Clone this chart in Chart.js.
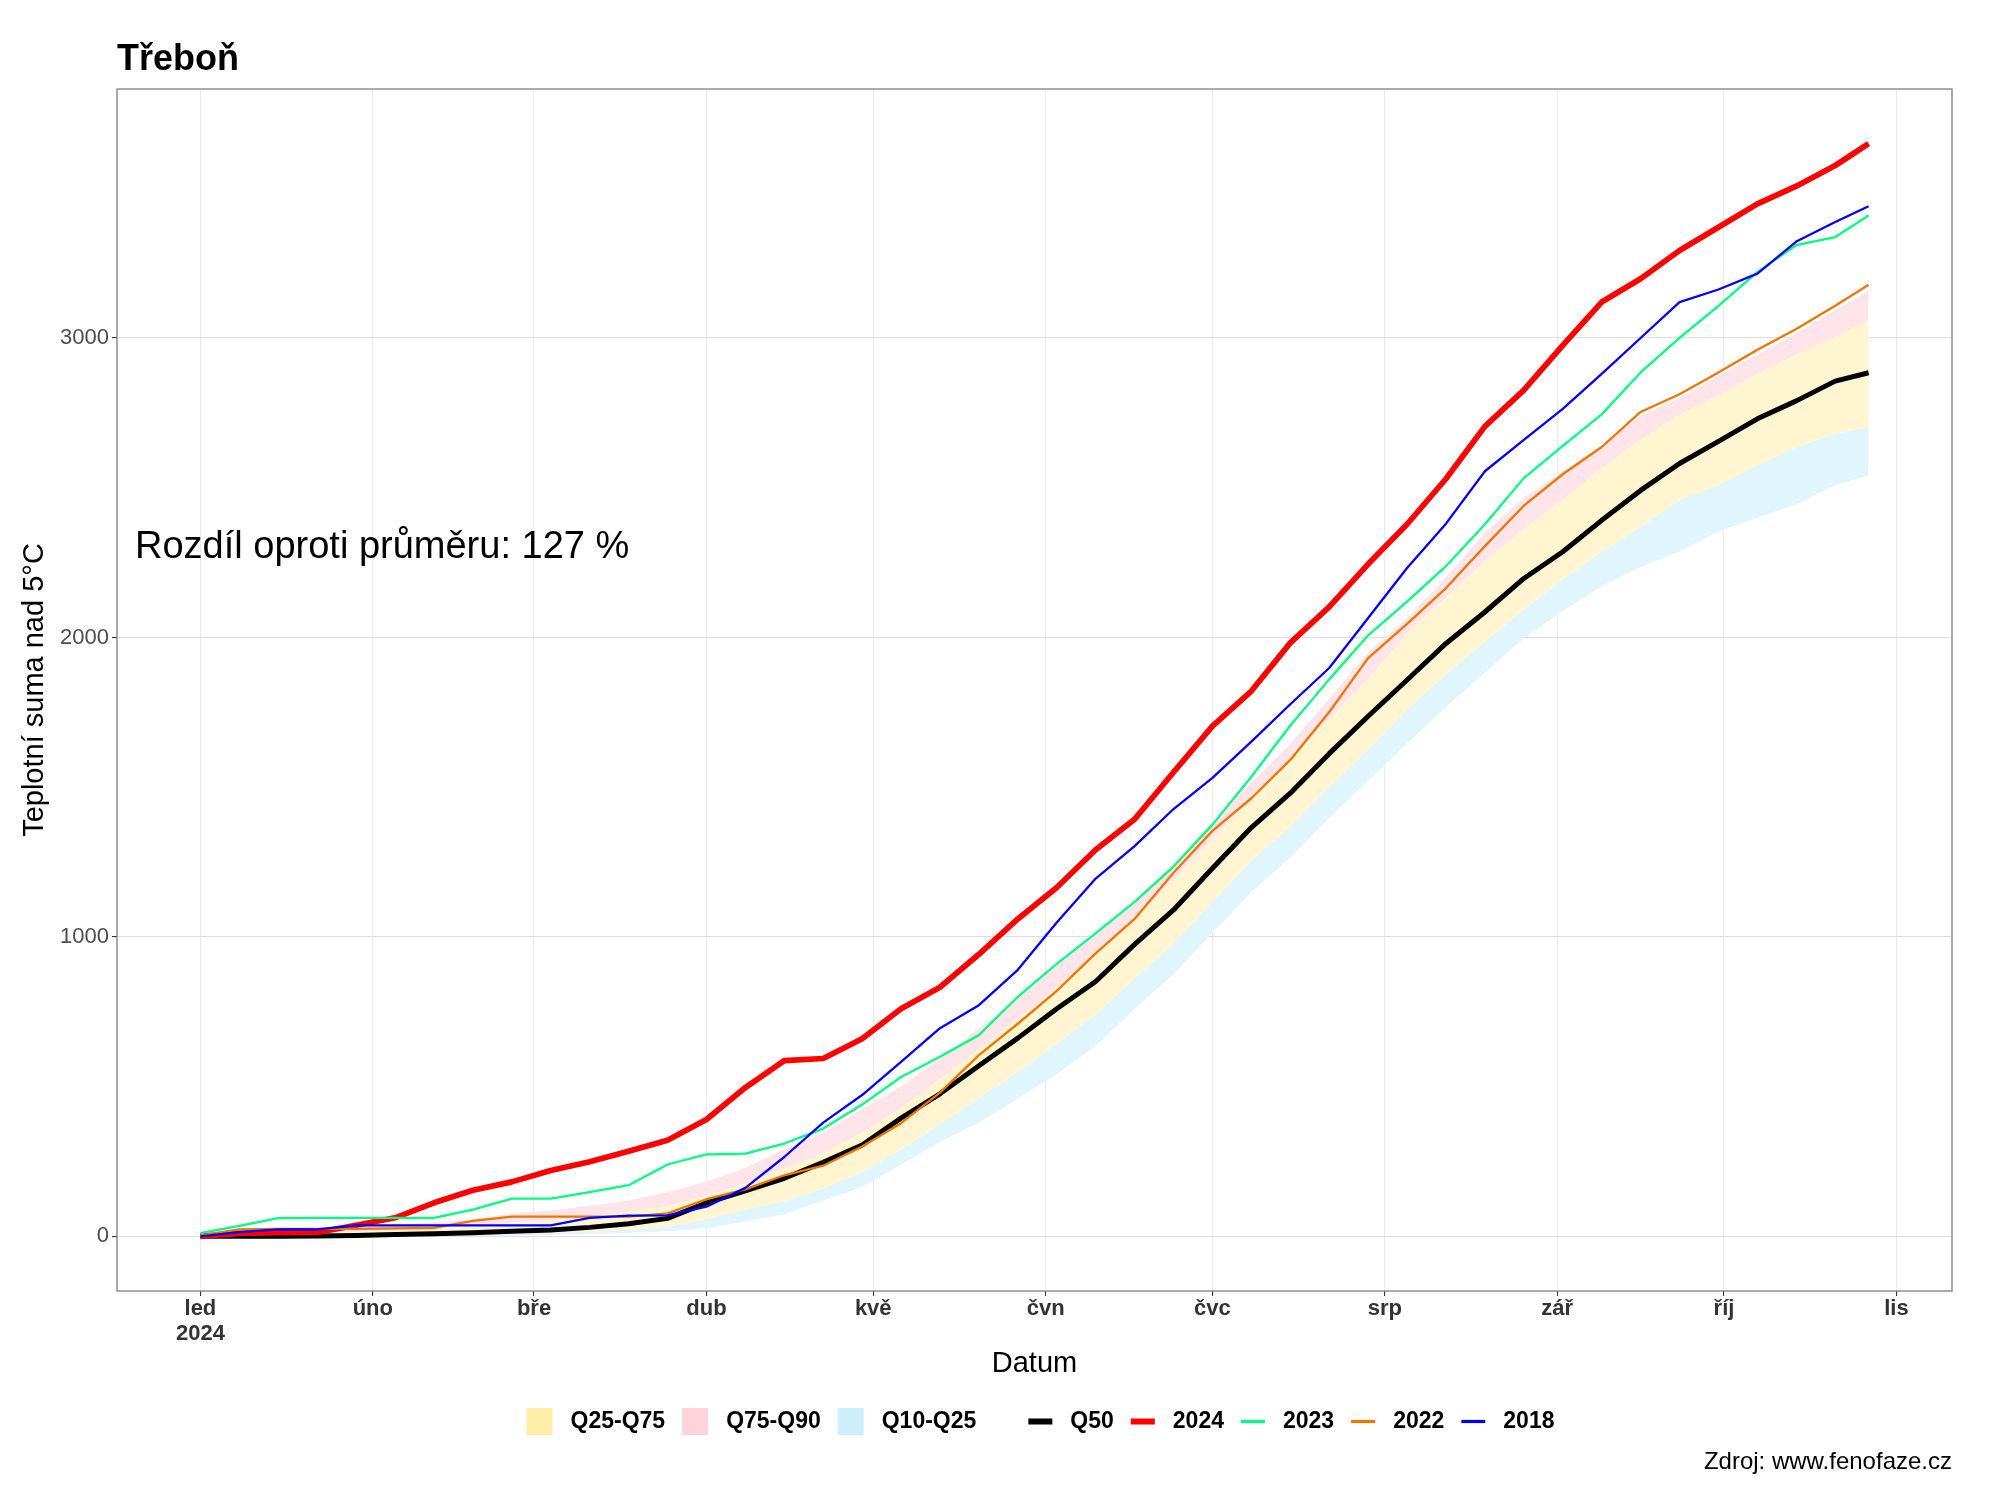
<!DOCTYPE html>
<html>
<head>
<meta charset="utf-8">
<title>Třeboň</title>
<script src="https://cdn.jsdelivr.net/npm/chart.js@4.4.1/dist/chart.umd.min.js"></script>
<style>
  html, body { margin: 0; padding: 0; background: #fff; }
  canvas { display: block; }
</style>
</head>
<body>
<canvas id="chart" width="2000" height="1500"></canvas>
<script>
// day of year 2024 (0 = 1 Jan), weekly samples up to the last day
const days = [0, 7, 14, 21, 28, 35, 42, 49, 56, 63, 70, 77, 84, 91, 98, 105, 112, 119, 126, 133, 140, 147,
  154, 161, 168, 175, 182, 189, 196, 203, 210, 217, 224, 231, 238, 245, 252, 259, 266, 273, 280, 287, 294, 300];

const monthStarts = [0, 31, 60, 91, 121, 152, 182, 213, 244, 274, 305];
const monthLabels = ['led', 'úno', 'bře', 'dub', 'kvě', 'čvn', 'čvc', 'srp', 'zář', 'říj', 'lis'];
const yearLabel = '2024';
const yTicks = [0, 1000, 2000, 3000];

// quantile bands of past years
const q10 = [0, 0, 0, 0, 0, 0, 1, 2, 3, 5, 8, 12, 16, 27, 50, 75, 120, 165, 240, 315, 380, 460,
  542, 636, 760, 875, 1014, 1150, 1265, 1397, 1522, 1646, 1768, 1883, 1998, 2088, 2171, 2235, 2287, 2355, 2400, 2445, 2510, 2542];
const q25 = [0, 0, 0, 0, 1, 2, 4, 6, 9, 12, 16, 22, 32, 58, 90, 118, 160, 215, 290, 375, 462, 550,
  645, 740, 862, 980, 1118, 1255, 1370, 1502, 1627, 1760, 1877, 1986, 2094, 2195, 2286, 2370, 2459, 2510, 2575, 2635, 2680, 2702];
const q50 = [0, 0, 0, 1, 3, 6, 9, 12, 17, 21, 30, 42, 60, 112, 152, 194, 247, 305, 395, 476, 570, 662,
  760, 851, 975, 1090, 1229, 1365, 1480, 1612, 1737, 1858, 1980, 2085, 2197, 2286, 2391, 2491, 2581, 2655, 2730, 2790, 2856, 2884];
const q75 = [1, 5, 8, 12, 15, 20, 27, 37, 46, 55, 66, 82, 102, 135, 178, 225, 280, 345, 430, 525, 625, 725,
  830, 940, 1060, 1190, 1330, 1460, 1590, 1730, 1860, 2015, 2135, 2255, 2365, 2460, 2565, 2660, 2745, 2810, 2880, 2945, 3005, 3061];
const q90 = [3, 12, 20, 25, 30, 38, 46, 57, 76, 86, 102, 120, 148, 182, 228, 292, 345, 425, 500, 595, 695, 795,
  900, 1005, 1120, 1250, 1385, 1515, 1645, 1795, 1950, 2065, 2200, 2350, 2466, 2555, 2640, 2740, 2800, 2875, 2945, 3015, 3093, 3157];

// single years
const s2024 = [0, 10, 12, 13, 37, 62, 112, 154, 182, 220, 249, 284, 321, 390, 497, 587, 594, 660, 760, 832, 942, 1060,
  1165, 1291, 1393, 1550, 1704, 1821, 1982, 2102, 2245, 2378, 2530, 2705, 2826, 2975, 3120, 3198, 3292, 3370, 3448, 3507, 3576, 3649];
const s2023 = [11, 35, 61, 62, 62, 62, 62, 89, 126, 126, 148, 171, 240, 274, 276, 310, 360, 440, 532, 600, 672, 800,
  910, 1012, 1117, 1235, 1375, 1535, 1706, 1860, 2007, 2120, 2238, 2378, 2532, 2640, 2745, 2885, 3000, 3107, 3220, 3310, 3337, 3409];
const s2022 = [3, 23, 25, 25, 25, 27, 28, 52, 66, 66, 66, 66, 77, 124, 157, 204, 236, 300, 378, 480, 605, 710,
  820, 945, 1060, 1214, 1354, 1463, 1591, 1751, 1931, 2045, 2165, 2305, 2440, 2545, 2636, 2753, 2812, 2885, 2961, 3030, 3108, 3178];
const s2018 = [0, 14, 23, 23, 37, 37, 37, 37, 37, 37, 62, 69, 70, 99, 162, 265, 380, 472, 583, 695, 772, 890,
  1048, 1195, 1303, 1427, 1531, 1652, 1777, 1898, 2065, 2232, 2380, 2555, 2660, 2763, 2880, 3000, 3120, 3162, 3215, 3322, 3387, 3440];

const bandLabels = ['Q25-Q75', 'Q75-Q90', 'Q10-Q25'];
const lineLabels = ['Q50', '2024', '2023', '2022', '2018'];
const annotationText = 'Rozdíl oproti průměru: 127 %';
const annotationValue = 2300;
const sourceText = 'Zdroj: www.fenofaze.cz';

const FONT = "'Liberation Sans', Arial, sans-serif";
Chart.defaults.font.family = FONT;

const bandStyle = {
  'Q25-Q75': { fill: '#FFF6D1', key: '#FFEEA8' },
  'Q75-Q90': { fill: '#FFE4EA', key: '#FFD3DC' },
  'Q10-Q25': { fill: '#E1F5FD', key: '#CDEFFC' }
};
const lineStyle = {
  'Q50': { color: '#000000', width: 5 },
  '2024': { color: '#FF0000', width: 5.7 },
  '2023': { color: '#00FF7F', width: 2.3 },
  '2022': { color: '#EE7600', width: 2.3 },
  '2018': { color: '#0000FF', width: 2.3 }
};

const lineSeries = { 'Q50': q50, '2024': s2024, '2023': s2023, '2022': s2022, '2018': s2018 };
const pts = arr => days.map((d, i) => ({ x: d, y: arr[i] }));

// ggplot style 5 % expansion of the data range
const xPad = (days[days.length - 1] - days[0]) * 0.05;
const yTop = Math.max(...s2024);
const yPad = yTop * 0.05;

// chart.js paints dataset 0 last, so the top layer comes first
const drawOrder = ['2018', '2022', '2023', '2024', 'Q50'];
const lineDatasets = drawOrder.map(name => ({
  label: name,
  data: pts(lineSeries[name]),
  borderColor: lineStyle[name].color,
  borderWidth: lineStyle[name].width,
  borderJoinStyle: 'round',
  pointRadius: 0,
  tension: 0,
  fill: false
}));

const bandDatasets = [
  { label: 'Q90', data: pts(q90), fill: '+1', backgroundColor: bandStyle['Q75-Q90'].fill },
  { label: 'Q75', data: pts(q75), fill: '+1', backgroundColor: bandStyle['Q25-Q75'].fill },
  { label: 'Q25', data: pts(q25), fill: '+1', backgroundColor: bandStyle['Q10-Q25'].fill },
  { label: 'Q10', data: pts(q10), fill: false }
].map(ds => ({ ...ds, borderWidth: 0, borderColor: 'rgba(0,0,0,0)', pointRadius: 0, tension: 0 }));

const decor = {
  id: 'decor',
  afterDraw(chart) {
    const { ctx, chartArea: a, scales } = chart;
    ctx.save();

    // panel border
    ctx.strokeStyle = '#7F7F7F';
    ctx.lineWidth = 1.3;
    ctx.strokeRect(a.left, a.top, a.right - a.left, a.bottom - a.top);

    // annotation
    ctx.fillStyle = '#000';
    ctx.font = `38px ${FONT}`;
    ctx.textAlign = 'left';
    ctx.textBaseline = 'middle';
    ctx.fillText(annotationText, a.left + 18, scales.y.getPixelForValue(annotationValue));

    // legend
    ctx.font = `bold 23px ${FONT}`;
    const keyGap = 18, itemGap = 17, groupGap = 52;
    const items = [
      ...bandLabels.map(l => ({ label: l, kind: 'fill', w: 26 })),
      ...lineLabels.map(l => ({ label: l, kind: 'line', w: 24 }))
    ];
    let total = 0;
    items.forEach((it, i) => {
      it.tw = ctx.measureText(it.label).width;
      total += it.w + keyGap + it.tw;
      if (i < items.length - 1) total += (i === bandLabels.length - 1) ? groupGap : itemGap;
    });
    const ly = a.bottom + 130.5;
    let x = (a.left + a.right) / 2 + 6 - total / 2;
    items.forEach((it, i) => {
      if (it.kind === 'fill') {
        ctx.fillStyle = bandStyle[it.label].key;
        ctx.fillRect(x, ly - 13.5, it.w, 27);
      } else {
        const st = lineStyle[it.label];
        ctx.fillStyle = st.color;
        const h = st.width > 4 ? 6 : 3.2;
        ctx.fillRect(x, ly - h / 2, it.w, h);
      }
      x += it.w + keyGap;
      ctx.fillStyle = '#000';
      ctx.textAlign = 'left';
      ctx.fillText(it.label, x, ly);
      x += it.tw + ((i === bandLabels.length - 1) ? groupGap : itemGap);
    });

    // source
    ctx.font = `24px ${FONT}`;
    ctx.textAlign = 'right';
    ctx.fillStyle = '#000';
    ctx.fillText(sourceText, a.right, chart.height - 37.5);
    ctx.restore();
  }
};

new Chart(document.getElementById('chart'), {
  type: 'line',
  data: { datasets: [...lineDatasets, ...bandDatasets] },
  options: {
    responsive: false,
    animation: false,
    events: [],
    layout: { padding: { left: 0, right: 48, top: 0, bottom: 109 } },
    plugins: {
      legend: { display: false },
      tooltip: { enabled: false },
      title: {
        display: true,
        text: 'Třeboň',
        align: 'start',
        fullSize: false,
        color: '#000',
        font: { size: 36, weight: 'bold', lineHeight: 1.2 },
        padding: { top: 38, bottom: 7.8 }
      }
    },
    scales: {
      x: {
        type: 'linear',
        min: days[0] - xPad,
        max: days[days.length - 1] + xPad,
        afterBuildTicks: s => { s.ticks = monthStarts.map(v => ({ value: v })); },
        afterFit: s => { s.height = 100; },
        ticks: {
          autoSkip: false,
          maxRotation: 0,
          padding: 0,
          color: '#333333',
          font: { size: 22, weight: 'bold', lineHeight: 1.15 },
          callback: v => {
            const i = monthStarts.indexOf(v);
            return i === 0 ? [monthLabels[0], yearLabel] : monthLabels[i];
          }
        },
        grid: { color: '#EBEBEB', lineWidth: 1.1, tickLength: 5, tickColor: '#333333', tickWidth: 1.1 },
        border: { display: false },
        title: {
          display: true,
          text: 'Datum',
          color: '#000',
          font: { size: 29 },
          padding: { top: 0, bottom: 10 }
        }
      },
      y: {
        type: 'linear',
        min: -yPad,
        max: yTop + yPad,
        afterBuildTicks: s => { s.ticks = yTicks.map(v => ({ value: v })); },
        afterFit: s => { s.width = 117; },
        ticks: {
          padding: 3,
          color: '#4D4D4D',
          font: { size: 22 },
          callback: v => String(v)
        },
        grid: { color: '#DEDEDE', lineWidth: 1.1, tickLength: 5, tickColor: '#333333', tickWidth: 1.1 },
        border: { display: false },
        title: {
          display: true,
          text: 'Teplotní suma nad 5°C',
          color: '#000',
          font: { size: 29 },
          padding: { top: 18, bottom: 0 }
        }
      }
    }
  },
  plugins: [decor]
});
</script>
</body>
</html>
